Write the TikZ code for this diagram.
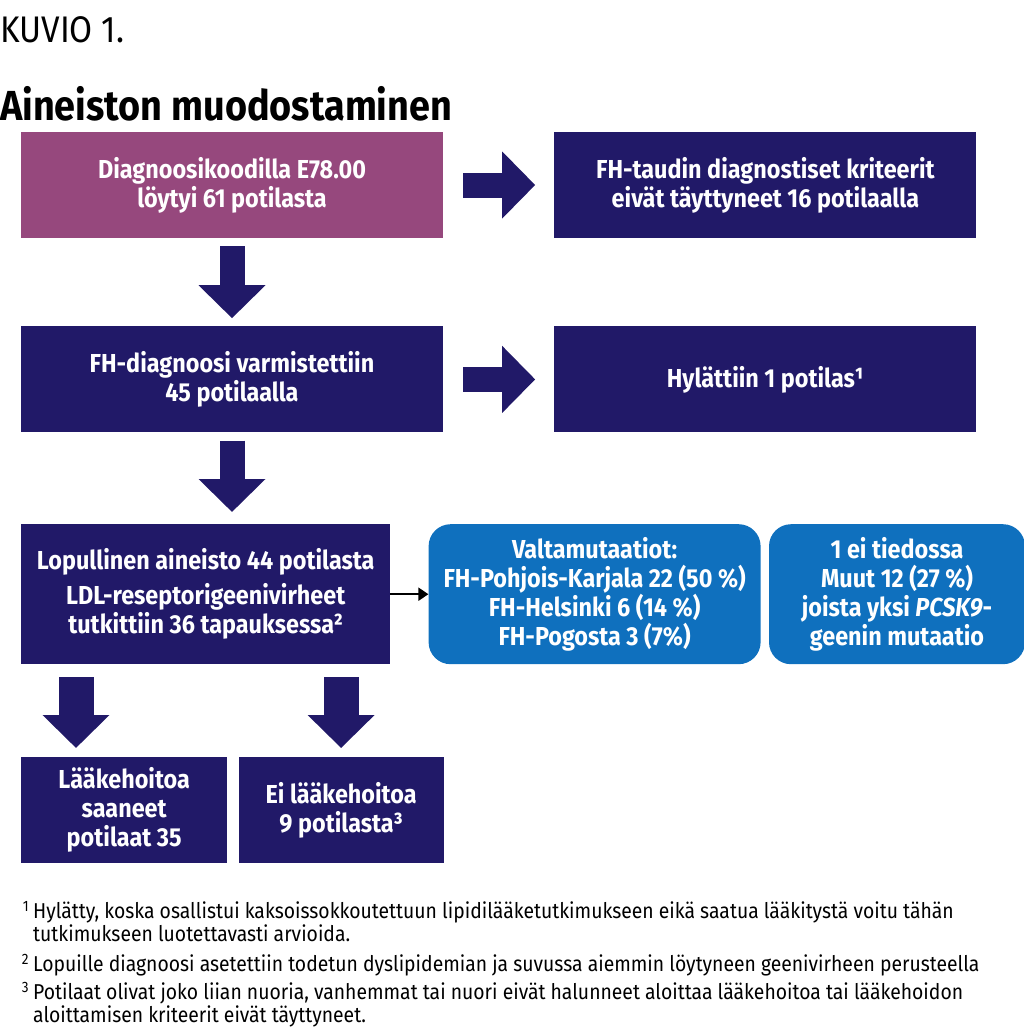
\documentclass[tikz,border=0pt]{standalone}
\usepackage{fontspec}
\setmainfont{Fira Sans}[FakeStretch=0.9]
\usepackage{xcolor}
\usetikzlibrary{arrows.meta,positioning}
\definecolor{plumfill}{HTML}{96487D}
\definecolor{navyfill}{HTML}{211968}
\definecolor{bluefill}{HTML}{0F70BE}

\begin{document}
\begin{tikzpicture}[
  x=1pt, y=-1pt,
  box/.style={rectangle, fill=navyfill, text=white, inner sep=0pt, align=center,
    minimum width=422pt, minimum height=106pt, font=\fontsize{26}{29}\selectfont\bfseries},
  roundbox/.style={box, fill=bluefill, rounded corners=22pt, minimum height=140pt},
  bigflow/.style={draw=navyfill, line width=25pt, -{Triangle[length=33pt, width=65pt]}},
  thinflow/.style={draw=black, line width=2pt, -{Triangle[length=10pt, width=13pt]}},
  fnote/.style={anchor=north west, inner sep=0pt, align=left, font=\fontsize{21.5}{20.5}\selectfont}
]
  \useasboundingbox (0,0) rectangle (1024,1028);

  % headings
  \node[anchor=base west, inner sep=0pt, font=\fontsize{37}{40}\selectfont] (fig) at (0,42) {KUVIO 1.};
  \node[anchor=base west, inner sep=0pt, font=\fontsize{42}{46}\selectfont\bfseries] (title) at (0,120) {Aineiston muodostaminen};

  % boxes
  \node[box, fill=plumfill] (found) at (232,185) {Diagnoosikoodilla E78.00\\löytyi 61 potilasta};
  \node[box, right=111pt of found] (nocrit) {FH-taudin diagnostiset kriteerit\\eivät täyttyneet 16 potilaalla};
  \node[box, below=88pt of found] (confirmed) {FH-diagnoosi varmistettiin\\45 potilaalla};
  \node[box, right=111pt of confirmed] (rejected) {Hylättiin 1 potilas¹};
  \node[box, anchor=north west, minimum width=369pt, minimum height=140pt] (final) at (21,524)
    {Lopullinen aineisto 44 potilasta\\[6pt]LDL-reseptorigeenivirheet\\tutkittiin 36 tapauksessa²};
  \node[roundbox, minimum width=332pt, right=38pt of final] (mainmut)
    {Valtamutaatiot:\\FH-Pohjois-Karjala 22 (50 \%)\\FH-Helsinki 6 (14 \%)\\FH-Pogosta 3 (7\%)};
  \node[roundbox, minimum width=256pt, right=8pt of mainmut] (othermut)
    {1 ei tiedossa\\Muut 12 (27 \%)\\joista yksi \textit{PCSK9}-\\geenin mutaatio};
  \node[box, anchor=north west, minimum width=206pt] (treated) at (21,757) {Lääkehoitoa\\saaneet\\potilaat 35};
  \node[box, minimum width=205pt, right=11pt of treated] (untreated) {Ei lääkehoitoa\\9 potilasta³};

  % arrows
  \draw[bigflow, shorten <=20pt, shorten >=19pt] (found) -- (nocrit);
  \draw[bigflow, shorten <=8pt, shorten >=8pt] (found) -- (confirmed);
  \draw[bigflow, shorten <=20pt, shorten >=19pt] (confirmed) -- (rejected);
  \draw[bigflow, shorten <=8pt, shorten >=12pt] (confirmed.south) -- (confirmed.south |- final.north);
  \draw[thinflow] (final) -- (mainmut);
  \draw[bigflow, line width=35pt, shorten <=13pt, shorten >=9pt] ([xshift=55pt]final.south west) -- ([xshift=55pt]final.south west |- treated.north);
  \draw[bigflow, line width=35pt, shorten <=13pt, shorten >=9pt] (untreated.north |- final.south) -- (untreated);

  % footnotes
  \node[fnote] (fn1) at (33,901) {\llap{\textsuperscript{1}\hspace{4pt}}Hylätty, koska osallistui kaksoissokkoutettuun lipidilääketutkimukseen eikä saatua lääkitystä voitu tähän\\tutkimukseen luotettavasti arvioida.};
  \node[fnote] (fn2) at (33,954) {\llap{\textsuperscript{2}\hspace{4pt}}Lopuille diagnoosi asetettiin todetun dyslipidemian ja suvussa aiemmin löytyneen geenivirheen perusteella};
  \node[fnote] (fn3) at (33,982) {\llap{\textsuperscript{3}\hspace{4pt}}Potilaat olivat joko liian nuoria, vanhemmat tai nuori eivät halunneet aloittaa lääkehoitoa tai lääkehoidon\\aloittamisen kriteerit eivät täyttyneet.};
\end{tikzpicture}
\end{document}
